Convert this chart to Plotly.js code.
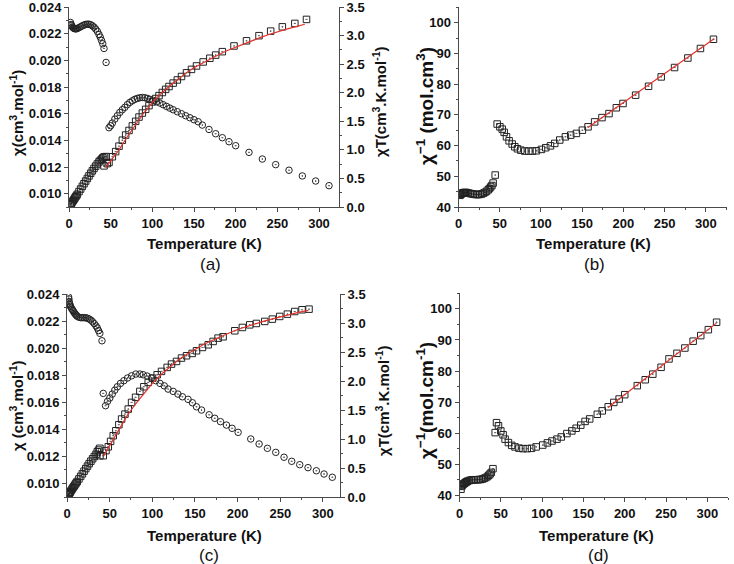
<!DOCTYPE html>
<html><head><meta charset="utf-8">
<script src="https://cdn.plot.ly/plotly-3.0.1.min.js"></script>
<style>html,body{margin:0;padding:0;background:#fff}#plot{width:734px;height:564px}</style>
</head><body><div id="plot"></div>
<script>
// ---------- Panel (a) data ----------
const tLowA = [1.8, 2.5, 3, 4, 5, 6, 7, 8, 9, 10, 12, 14, 16, 18, 20, 22, 24, 26, 28, 30, 32, 34, 36, 37.5, 39, 40.5, 42, 44.5];
const chiLowA = [0.02285, 0.02270, 0.02262, 0.02252, 0.02245, 0.02240, 0.02238, 0.02237, 0.02238, 0.02240, 0.02246, 0.02253, 0.02260, 0.02266, 0.02270, 0.02272, 0.02272, 0.02268, 0.02260, 0.02250, 0.02236, 0.02218, 0.02195, 0.02175, 0.02150, 0.02125, 0.02090, 0.01985];
const chiTLowA = [0.04, 0.057, 0.068, 0.09, 0.112, 0.134, 0.157, 0.179, 0.2, 0.224, 0.27, 0.315, 0.362, 0.408, 0.454, 0.5, 0.545, 0.59, 0.633, 0.675, 0.715, 0.754, 0.79, 0.815, 0.838, 0.86, 0.878, 0.883];
const tHighChiA = [48, 50, 52, 55, 58, 61, 64, 67, 70, 73, 76, 79, 82, 85, 88, 91, 94, 97, 101, 105, 109, 113, 117, 121, 125, 130, 135, 140, 145, 150, 155, 160, 168, 176, 184, 192, 200, 216, 232, 248, 264, 280, 296, 312];
const chiHighA = [0.01495, 0.0151, 0.0153, 0.0156, 0.01585, 0.0161, 0.0163, 0.01648, 0.01668, 0.01685, 0.01697, 0.01708, 0.01715, 0.0172, 0.01722, 0.0172, 0.01715, 0.01708, 0.017, 0.0169, 0.0168, 0.01668, 0.01655, 0.01642, 0.0163, 0.01615, 0.016, 0.01585, 0.0157, 0.01555, 0.0154, 0.01515, 0.01482, 0.0145, 0.0142, 0.0139, 0.0136, 0.0131, 0.0126, 0.01218, 0.01176, 0.01133, 0.01095, 0.0106];
const tHighChiTA = [42, 46, 48, 52, 56, 60, 64, 68, 72, 76, 80, 84, 88, 92, 96, 100, 104, 108, 112, 116, 120, 125, 130, 135, 141, 147, 153, 161, 169, 176, 184, 198, 213, 228, 242, 256, 271, 285];
const chiTHighA = [0.72, 0.76, 0.78, 0.88, 0.97, 1.065, 1.17, 1.26, 1.34, 1.42, 1.5, 1.575, 1.645, 1.71, 1.775, 1.84, 1.9, 1.95, 2.005, 2.06, 2.11, 2.17, 2.225, 2.285, 2.35, 2.41, 2.47, 2.54, 2.605, 2.66, 2.72, 2.82, 2.91, 3.0, 3.08, 3.155, 3.215, 3.285];
const tFitA = [44, 50, 60, 70, 80, 90, 100, 110, 120, 130, 140, 150, 160, 170, 180, 190, 200, 210, 220, 230, 240, 250, 260, 270, 283];
const fitA = [0.69, 0.8, 1.0, 1.23, 1.45, 1.65, 1.83, 1.98, 2.11, 2.23, 2.34, 2.44, 2.52, 2.6, 2.67, 2.74, 2.8, 2.86, 2.92, 2.97, 3.02, 3.07, 3.11, 3.15, 3.2];

// ---------- Panel (b) data ----------
const tLowB = [1.8, 2.5, 3, 4, 5, 6, 7, 8, 9, 10, 12, 14, 16, 18, 20, 22, 24, 26, 28, 30, 32, 34, 36, 37.5, 39, 40.5, 42, 44.5];
const invLowB = [43.8, 44.1, 44.2, 44.4, 44.55, 44.65, 44.7, 44.7, 44.7, 44.65, 44.55, 44.4, 44.3, 44.2, 44.1, 44.05, 44.05, 44.1, 44.25, 44.45, 44.75, 45.1, 45.6, 46.0, 46.5, 47.0, 47.8, 50.4];
const tHighB = [46.9, 50.2, 53, 55.4, 58.2, 61.4, 65.1, 68.3, 71.5, 75.6, 80.4, 85.3, 89.7, 94.5, 100.6, 105.8, 111.5, 116.7, 122.8, 129.6, 136.1, 143, 150.2, 157.1, 165.1, 174, 182.5, 191.4, 199.5, 214.8, 230.5, 245.8, 262, 278.1, 293.4, 309.2];
const invHighB = [67.0, 66.1, 65.35, 64.3, 62.85, 61.55, 60.5, 59.6, 58.95, 58.5, 58.2, 58.2, 58.2, 58.3, 58.75, 59.3, 59.9, 60.7, 61.8, 62.85, 63.4, 63.95, 65.0, 66.1, 67.7, 69.1, 70.4, 72.3, 73.7, 76.4, 79.3, 82.35, 85.4, 88.5, 91.6, 94.6];
const tFitB = [157, 310];
const fitB = [65.9, 94.8];

// ---------- Panel (c) data ----------
const tLowC = [1.8, 2.2, 2.6, 3, 3.5, 4, 5, 6, 7, 8, 9, 10, 11, 12, 14, 16, 18, 20, 22, 24, 26, 28, 30, 32, 34, 35.5, 37, 38.5, 41];
const chiLowC = [0.0238, 0.02365, 0.02345, 0.0233, 0.0232, 0.0231, 0.02298, 0.02288, 0.02278, 0.02268, 0.02258, 0.0225, 0.02243, 0.02236, 0.02229, 0.02226, 0.02226, 0.02226, 0.02225, 0.02222, 0.02216, 0.02208, 0.02196, 0.02182, 0.02165, 0.0215, 0.0213, 0.0211, 0.02055];
const tLowChiTC = [1.8, 2.2, 2.6, 3, 3.5, 4, 5, 6, 7, 8, 9, 10, 11, 12, 14, 16, 18, 20, 22, 24, 26, 28, 30, 32, 34, 35.5, 37, 38.5];
const chiTLowC = [0.043, 0.052, 0.061, 0.07, 0.081, 0.092, 0.115, 0.137, 0.16, 0.181, 0.203, 0.225, 0.247, 0.268, 0.312, 0.356, 0.4, 0.445, 0.49, 0.533, 0.576, 0.618, 0.659, 0.698, 0.736, 0.78, 0.81, 0.84];
const tHighChiC = [42.5, 45.2, 47.5, 50.2, 53, 56, 59, 62.7, 66.7, 71, 75.7, 80.7, 85.4, 89.3, 94, 99, 104, 109, 114, 118.5, 124.4, 130, 135.3, 141.9, 147, 151.8, 157.7, 166.6, 173.2, 179.9, 186.9, 193.5, 200.6, 215.4, 225.2, 234.9, 244.7, 254.4, 263.4, 272.8, 282.5, 292.3, 301.3, 311];
const chiHighC = [0.01666, 0.01575, 0.01607, 0.01632, 0.01661, 0.0169, 0.01715, 0.0174, 0.0176, 0.0178, 0.01796, 0.01809, 0.01809, 0.01804, 0.01794, 0.0178, 0.0176, 0.0174, 0.01722, 0.01698, 0.01681, 0.01661, 0.01641, 0.01622, 0.01597, 0.01567, 0.01543, 0.01508, 0.01482, 0.01457, 0.01432, 0.01408, 0.01378, 0.01329, 0.01292, 0.0126, 0.0123, 0.01194, 0.01164, 0.01139, 0.01117, 0.01094, 0.0107, 0.01046];
const tHighChiTC = [38.6, 42.5, 45.7, 48.4, 51.1, 54.2, 57.3, 60.8, 64, 67.9, 71.8, 75.7, 80.4, 85.4, 90.1, 95.2, 100.2, 105.7, 110.8, 117.4, 122.5, 128.4, 134.2, 140.1, 146.7, 151.8, 158.8, 165.5, 171.3, 177.1, 183, 196.7, 205.6, 214.2, 222, 231.8, 240.7, 249.3, 258.3, 266.9, 275.5, 283.7];
const chiTHighC = [0.712, 0.712, 0.8, 0.867, 0.96, 1.057, 1.143, 1.247, 1.345, 1.43, 1.517, 1.632, 1.72, 1.822, 1.902, 1.977, 2.05, 2.109, 2.167, 2.236, 2.293, 2.339, 2.397, 2.437, 2.477, 2.523, 2.58, 2.626, 2.684, 2.741, 2.764, 2.868, 2.925, 2.97, 2.994, 3.029, 3.069, 3.115, 3.155, 3.2, 3.23, 3.241];
const tFitC = [43, 50, 60, 70, 80, 90, 100, 110, 120, 130, 140, 150, 160, 170, 180, 190, 200, 210, 220, 230, 240, 250, 260, 270, 283];
const fitC = [0.71, 0.88, 1.14, 1.39, 1.6, 1.79, 1.96, 2.11, 2.24, 2.36, 2.46, 2.55, 2.63, 2.7, 2.77, 2.83, 2.89, 2.94, 2.99, 3.03, 3.07, 3.11, 3.15, 3.18, 3.22];

// ---------- Panel (d) data ----------
const tLowD = [1.8, 2.5, 3, 4, 5, 6, 7, 8, 9, 10, 12, 14, 16, 18, 20, 22, 24, 26, 28, 30, 32, 34, 35.5, 37, 38.5, 40.5];
const invLowD = [42.0, 42.9, 43.2, 43.5, 43.7, 43.9, 44.1, 44.3, 44.45, 44.6, 44.8, 44.95, 45.0, 45.05, 45.05, 45.05, 45.1, 45.15, 45.3, 45.5, 45.75, 46.1, 46.5, 46.9, 47.4, 48.6];
const tHighD = [43.2, 44.8, 47.2, 50, 52.8, 55.2, 59.2, 63.2, 67.2, 72, 76.8, 82, 87.2, 92.8, 100.8, 106.4, 112, 118, 123.2, 130, 136, 141.2, 146.8, 152, 157.6, 166.8, 172.8, 180, 186.8, 193.2, 200, 215.2, 224.8, 234, 244, 253.6, 263.2, 272.8, 282.8, 292, 301.2, 311.2];
const invHighD = [60.2, 63.4, 62.4, 60.75, 59.5, 58.1, 57.0, 56.1, 55.6, 55.2, 55.05, 55.05, 55.15, 55.6, 56.2, 56.9, 57.5, 58.1, 58.8, 59.9, 60.75, 61.6, 62.6, 63.8, 64.6, 66.1, 67.2, 68.5, 69.9, 71.0, 72.4, 75.3, 77.2, 79.0, 81.2, 83.9, 85.7, 87.4, 89.6, 91.4, 93.3, 95.7];
const tFitD = [180, 311];
const fitD = [68.3, 95.4];

// ---------- styling ----------
const W = 734, H = 564;
const FONT = 'Liberation Sans, Arial, sans-serif';
const AX = '#4a4a4a';
const MK = '#222222';
const RED = '#e2322b';
const px = v => v / W;
const py = v => 1 - v / H;

function circ(x, y, xa, ya) {
  return {x, y, xaxis: xa, yaxis: ya, mode: 'markers', type: 'scatter', hoverinfo: 'skip',
    marker: {symbol: 'circle-open-dot', size: 6.5, color: MK, line: {width: 1}}};
}
function sq(x, y, xa, ya) {
  return {x, y, xaxis: xa, yaxis: ya, mode: 'markers', type: 'scatter', hoverinfo: 'skip',
    marker: {symbol: 'square-open-dot', size: 6.5, color: MK, line: {width: 1}}};
}
function fit(x, y, xa, ya) {
  return {x, y, xaxis: xa, yaxis: ya, mode: 'lines', type: 'scatter', hoverinfo: 'skip',
    line: {color: RED, width: 1.2}};
}

const tickFont = {family: FONT, size: 13, color: '#111', weight: 'bold'};
function xBottom(dom, range, anchor) {
  return {domain: dom, range, anchor, dtick: 50, ticks: 'outside', ticklen: 4, tickcolor: AX,
    showline: true, linecolor: AX, linewidth: 1, showgrid: false, zeroline: false, ticklabeloverflow: 'allow',
    tickfont: tickFont, minor: {dtick: 25, ticks: 'outside', ticklen: 2, tickcolor: AX, showgrid: false}};
}
function xTop(over, range, anchor) {
  return {overlaying: over, side: 'top', range, anchor, dtick: 50, ticks: 'inside', ticklen: 4, tickcolor: AX,
    showline: true, linecolor: AX, linewidth: 1, showgrid: false, zeroline: false, showticklabels: false,
    minor: {dtick: 25, ticks: 'inside', ticklen: 2, tickcolor: AX, showgrid: false}};
}
function yLeft(dom, range, anchor, dtick, fmt) {
  return {domain: dom, range, anchor, dtick, tickformat: fmt, ticks: 'outside', ticklen: 4, tickcolor: AX,
    showline: true, linecolor: AX, linewidth: 1, showgrid: false, zeroline: false, tickfont: tickFont,
    ticklabeloverflow: 'allow',
    minor: {dtick: dtick / 2, ticks: 'outside', ticklen: 2, tickcolor: AX, showgrid: false}};
}
function yRightLab(over, range, anchor, dtick, fmt) {
  return {overlaying: over, side: 'right', range, anchor, dtick, tickformat: fmt, ticks: 'outside', ticklen: 4, tickcolor: AX,
    showline: true, linecolor: AX, linewidth: 1, showgrid: false, zeroline: false, tickfont: tickFont,
    ticklabeloverflow: 'allow',
    minor: {dtick: dtick / 2, ticks: 'outside', ticklen: 2, tickcolor: AX, showgrid: false}};
}
function yRightIn(over, range, anchor, dtick) {
  return {overlaying: over, side: 'right', range, anchor, dtick, ticks: 'inside', ticklen: 4, tickcolor: AX,
    showline: true, linecolor: AX, linewidth: 1, showgrid: false, zeroline: false, showticklabels: false,
    minor: {dtick: dtick / 2, ticks: 'inside', ticklen: 2, tickcolor: AX, showgrid: false}};
}

const data = [
  circ(tLowA, chiLowA, 'x', 'y'),
  circ(tHighChiA, chiHighA, 'x', 'y'),
  sq(tLowA, chiTLowA, 'x', 'y2'),
  sq(tHighChiTA, chiTHighA, 'x', 'y2'),
  fit(tFitA, fitA, 'x', 'y2'),

  sq(tLowB, invLowB, 'x3', 'y3'),
  sq(tHighB, invHighB, 'x3', 'y3'),
  fit(tFitB, fitB, 'x3', 'y3'),

  circ(tLowC, chiLowC, 'x5', 'y5'),
  circ(tHighChiC, chiHighC, 'x5', 'y5'),
  sq(tLowChiTC, chiTLowC, 'x5', 'y6'),
  sq(tHighChiTC, chiTHighC, 'x5', 'y6'),
  fit(tFitC, fitC, 'x5', 'y6'),

  sq(tLowD, invLowD, 'x7', 'y7'),
  sq(tHighD, invHighD, 'x7', 'y7'),
  fit(tFitD, fitD, 'x7', 'y7')
];

const domAx = [px(69), px(339)], domAy = [py(207), py(7)];
const domBx = [px(458.5), px(726.5)], domBy = [py(207), py(6.7)];
const domCx = [px(67), px(340)], domCy = [py(497), py(294)];
const domDx = [px(459.5), px(728)], domDy = [py(497.3), py(293.3)];

function ann(text, x, y, size, angle, bold) {
  return {text: bold ? '<b>' + text + '</b>' : text, xref: 'paper', yref: 'paper', x: px(x), y: py(y),
    xanchor: 'center', yanchor: 'middle', showarrow: false, textangle: angle || 0,
    font: {family: FONT, size, color: '#111'}};
}

const layout = {
  width: W, height: H, margin: {l: 0, r: 0, t: 0, b: 0}, showlegend: false,
  paper_bgcolor: '#fff', plot_bgcolor: 'rgba(0,0,0,0)',
  font: {family: FONT},
  xaxis: xBottom(domAx, [0, 324], 'y'),
  xaxis2: xTop('x', [0, 324], 'y'),
  yaxis: yLeft(domAy, [0.009, 0.02401], 'x', 0.002, '.3f'),
  yaxis2: yRightLab('y', [0, 3.5023], 'x', 0.5, '.1f'),

  xaxis3: xBottom(domBx, [0, 325], 'y3'),
  xaxis4: xTop('x3', [0, 325], 'y3'),
  yaxis3: yLeft(domBy, [40, 105.2], 'x3', 10, 'd'),
  yaxis4: yRightIn('y3', [40, 105.2], 'x3', 10),

  xaxis5: xBottom(domCx, [0, 320], 'y5'),
  xaxis6: xTop('x5', [0, 320], 'y5'),
  yaxis5: yLeft(domCy, [0.009, 0.02401], 'x5', 0.002, '.3f'),
  yaxis6: yRightLab('y5', [0, 3.5023], 'x5', 0.5, '.1f'),

  xaxis7: xBottom(domDx, [0, 325], 'y7'),
  xaxis8: xTop('x7', [0, 325], 'y7'),
  yaxis7: yLeft(domDy, [39.4, 105], 'x7', 10, 'd'),
  yaxis8: yRightIn('y7', [39.4, 105], 'x7', 10),

  annotations: [
    ann('Temperature (K)', 204, 243, 15, 0, true),
    ann('Temperature (K)', 593, 243, 15, 0, true),
    ann('Temperature (K)', 204, 535, 15, 0, true),
    ann('Temperature (K)', 596, 535, 15, 0, true),
    ann('(a)', 210, 264, 17, 0, false),
    ann('(b)', 594, 264, 17, 0, false),
    ann('(c)', 209, 555, 17, 0, false),
    ann('(d)', 598, 555, 17, 0, false),
    ann('χ(cm<sup>3</sup>.mol<sup>-1</sup>)', 16, 113, 15, -90, true),
    ann('χT(cm<sup>3</sup>.K.mol<sup>-1</sup>)', 380, 102, 15, -90, true),
    ann('χ<sup>−1</sup> (mol.cm<sup>3</sup>)', 425, 106, 19, -90, true),
    ann('χ (cm<sup>3</sup>.mol<sup>-1</sup>)', 16, 406, 15, -90, true),
    ann('χT(cm<sup>3</sup>.K.mol<sup>-1</sup>)', 382, 401, 15, -90, true),
    ann('χ<sup>−1</sup>(mol.cm<sup>-1</sup>)', 425, 400, 19, -90, true)
  ]
};

Plotly.newPlot('plot', data, layout, {staticPlot: true, displayModeBar: false});
</script></body></html>
